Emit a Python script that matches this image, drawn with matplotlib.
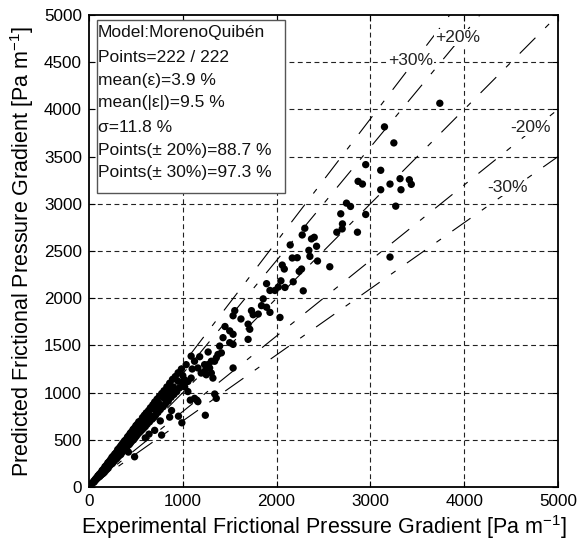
import matplotlib
matplotlib.use("Agg")
import matplotlib.pyplot as plt
from matplotlib.patches import Rectangle

plt.rcParams['font.family'] = ['Liberation Sans', 'DejaVu Sans']
plt.rcParams['mathtext.fontset'] = 'custom'
plt.rcParams['mathtext.rm'] = 'Liberation Sans'
plt.rcParams['mathtext.default'] = 'regular'
plt.rcParams['lines.scale_dashes'] = False

# ---- data ----
exp_low = [20, 30, 40, 50, 55, 65, 70, 80, 85, 95, 100, 110, 115, 125, 130, 140, 145, 155, 160, 170,
           175, 185, 190, 200, 205, 215, 220, 230, 235, 245, 250, 260, 265, 275, 280, 290, 295, 305, 310, 320,
           325, 335, 340, 350, 355, 365, 370, 380, 385, 395, 400, 410, 415, 425, 430, 440, 445, 455, 460, 470,
           475, 485, 490, 500, 505, 515, 520, 530, 540, 550, 560, 570, 580, 590, 600, 610, 620, 635, 645, 655,
           665, 680, 690, 700, 710, 725, 735, 750, 760, 775, 790, 800, 815, 830, 845, 860, 875, 890, 905, 920,
           935, 950, 965, 985, 1000,
           100, 150, 200, 250, 300, 350, 400, 450, 500, 550, 600, 650, 700, 750, 800, 850, 900, 950, 380, 620,
           720, 820, 880, 580, 470,
           486, 774, 990, 954, 880, 1240, 1080, 1150, 1340, 700, 860, 600, 420, 760, 640]
pred_low = [22, 38, 44, 62, 52, 80, 72, 98, 88, 118, 102, 135, 112, 150, 128, 175, 140, 190, 158, 215,
            170, 230, 186, 255, 200, 270, 225, 290, 240, 315, 250, 330, 270, 350, 290, 365, 300, 395, 320, 410,
            335, 430, 345, 450, 370, 470, 390, 490, 400, 500, 420, 530, 440, 545, 450, 570, 470, 585, 490, 610,
            500, 625, 520, 650, 540, 665, 560, 690, 580, 700, 600, 735, 620, 760, 640, 785, 665, 810, 690, 840,
            715, 870, 740, 900, 760, 930, 790, 960, 820, 990, 850, 1020, 880, 1060, 910, 1100, 950, 1140, 980, 1170,
            1010, 1210, 1050, 1250, 1090,
            120, 170, 230, 290, 350, 410, 470, 520, 590, 640, 700, 760, 820, 880, 940, 1000, 1060, 1120, 440, 720,
            850, 960, 1030, 690, 550,
            320, 550, 680, 750, 810, 760, 920, 920, 985, 600, 740, 520, 370, 700, 560]

exp_mid = [1893, 1929, 1982, 2018, 1857, 1839, 1893, 1929, 2036, 1732, 1750, 1804, 1696, 1714, 1696, 1554,
           1536, 1500, 1536, 1429, 1500, 1536, 1393, 1375, 1411, 1357, 1339, 1304, 1268, 1232, 1286, 1232,
           1089, 1036, 1125, 1161, 1196, 1250, 1304, 1321, 1536, 1089, 1054, 1018, 1054, 1125, 1161, 1357,
           1100, 1180, 1270, 1450, 1620, 1000, 1020]
pred_mid = [2154, 2082, 2082, 2118, 1993, 1921, 1904, 1850, 1796, 1868, 1825, 1832, 1725, 1671, 1564, 1868,
            1814, 1654, 1618, 1582, 1529, 1511, 1493, 1404, 1421, 1368, 1332, 1332, 1296, 1296, 1261, 1225,
            1386, 1296, 1332, 1261, 1207, 1189, 1207, 1154, 1261, 1154, 1118, 1136, 1011, 939, 904, 939,
            1250, 1380, 1430, 1700, 1780, 1180, 1060]

exp_high = [3740, 3150, 3250, 2950, 3110, 2869, 2915, 3110, 3209, 3316, 3326, 3415, 3436, 3270, 2745, 2788,
            2684, 2950, 2702, 2699, 2642, 2862, 2301, 2273, 2372, 2401, 2426, 2145, 2344, 2355, 2220, 2167,
            2436, 2567, 2060, 2082, 2266, 2241, 3209, 2177, 2046, 2089, 2284]
pred_high = [4065, 3815, 3645, 3415, 3355, 3238, 3209, 3149, 3209, 3266, 3149, 3255, 3206, 2975, 3007, 2972,
             2894, 2887, 2787, 2734, 2699, 2699, 2741, 2670, 2628, 2645, 2550, 2564, 2507, 2443, 2429, 2426,
             2394, 2333, 2351, 2309, 2309, 2284, 2436, 2174, 2184, 2114, 2078]

ref_factors = [1.3, 1.2, 1.0, 0.8, 0.7]
ref_labels = ['+20%', '+30%', '-20%', '-30%']
ref_label_x = [3690, 3190, 4490, 4250]
ref_label_y = [4760, 4520, 3810, 3170]

stats_lines = ['Model:MorenoQuibén', 'Points=222 / 222', 'mean(ε)=3.9 %', 'mean(|ε|)=9.5 %',
               'σ=11.8 %', 'Points(± 20%)=88.7 %', 'Points(± 30%)=97.3 %']

xticks = [0, 1000, 2000, 3000, 4000, 5000]
yticks = [0, 500, 1000, 1500, 2000, 2500, 3000, 3500, 4000, 4500, 5000]

# ---- figure ----
fig = plt.figure(figsize=(5.78, 5.40), dpi=100)
ax = fig.add_axes([89/578, 53/540, 469/578, 472/540])
ax.set_xlim(0, 5000)
ax.set_ylim(0, 5000)

for xv in xticks[1:-1]:
    ax.plot([xv, xv], [0, 5000], color='#222222', lw=0.8, linestyle=(0, (3.5, 2.5)), zorder=1)
for yv in yticks[1:-1]:
    ax.plot([0, 5000], [yv, yv], color='#222222', lw=0.8, linestyle=(0, (3.5, 2.5)), zorder=1)

for f in ref_factors:
    ax.plot([0, 5000], [0, 5000 * f], color='k', lw=0.8, linestyle=(0, (16, 10, 4, 10)), zorder=2)

ax.scatter(exp_low + exp_mid + exp_high, pred_low + pred_mid + pred_high,
           s=28, color='k', edgecolors='none', zorder=3)

for lab, lx, ly in zip(ref_labels, ref_label_x, ref_label_y):
    ax.text(lx, ly, lab, fontsize=12.5, va='center', ha='left', color='#222222', zorder=4,
            bbox=dict(facecolor='white', edgecolor='none', pad=0.5))

ax.add_patch(Rectangle((8/469, 294/472), 188/469, 173/472, transform=ax.transAxes,
                       facecolor='white', edgecolor='#555555', lw=1.0, zorder=5))
line_y = [33, 57, 80, 103, 127, 150, 173]
for txt, py in zip(stats_lines, line_y):
    ax.text(9/469, (472 - (py - 15)) / 472, txt, transform=ax.transAxes, fontsize=12.5,
            va='center', ha='left', color='#111111', zorder=6)

ax.set_xticks(xticks)
ax.set_yticks(yticks)
ax.tick_params(direction='in', top=True, right=True, length=4, width=0.8, labelsize=12.3, pad=5)
for sp in ax.spines.values():
    sp.set_linewidth(1.3)

ax.set_xlabel('Experimental Frictional Pressure Gradient [Pa m$^{-1}$]', fontsize=15.5)
ax.set_ylabel('Predicted Frictional Pressure Gradient [Pa m$^{-1}$]', fontsize=15.5)
ax.xaxis.set_label_coords(0.5, -(527 - 487) / 472, transform=ax.transAxes)
ax.yaxis.set_label_coords(-(89 - 22) / 469, 0.5)
ax.xaxis.label.set_va('center')
ax.yaxis.label.set_va('center')

fig.savefig('out.png', dpi=100)
